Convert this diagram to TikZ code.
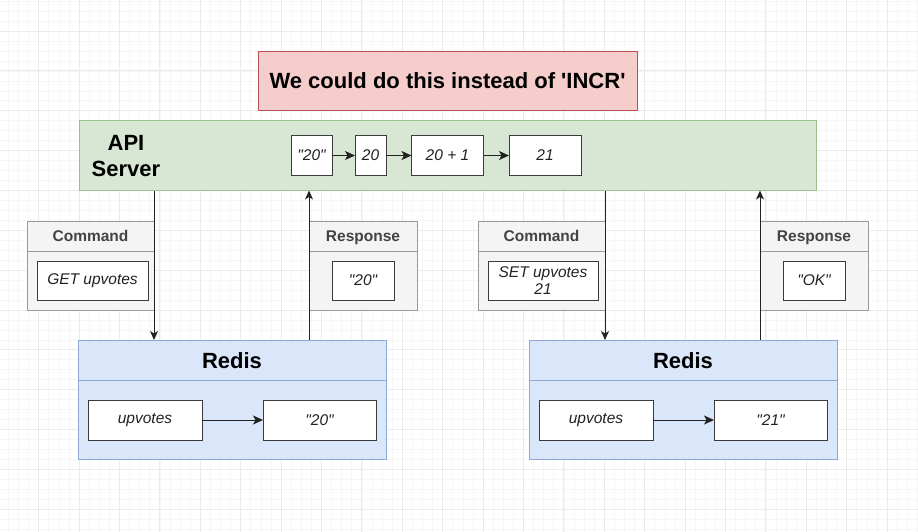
\documentclass[tikz,border=0pt]{standalone}
\usepackage{fontspec}
\setmainfont{Liberation Sans}[Ligatures=TeXOff]
\usetikzlibrary{arrows.meta}
\definecolor{gridminor}{HTML}{F6F6F6}
\definecolor{gridmajor}{HTML}{EBEBEB}
\definecolor{redfill}{HTML}{F5CDCB}
\definecolor{redline}{HTML}{B85450}
\definecolor{greenfill}{HTML}{D8E7D3}
\definecolor{greenline}{HTML}{9CC28C}
\definecolor{bluefill}{HTML}{DAE6FA}
\definecolor{blueline}{HTML}{8FA8D6}
\definecolor{grayfill}{HTML}{F4F4F4}
\definecolor{grayline}{HTML}{9A9A9A}
\definecolor{ink}{HTML}{222222}
\definecolor{boxline}{HTML}{3A3A3A}
\tikzset{
  base/.style={draw, inner sep=0pt, outer sep=0pt, align=center},
  redbox/.style={base, fill=redfill, draw=redline, line width=0.6pt},
  greenbox/.style={base, fill=greenfill, draw=greenline, line width=1pt},
  bluebox/.style={base, fill=bluefill, draw=blueline, line width=1pt},
  graybox/.style={base, fill=grayfill, draw=grayline, line width=1pt},
  valbox/.style={base, fill=white, draw=boxline, line width=1pt, text=ink,
    font=\fontsize{15.5}{18}\selectfont\itshape},
  bigtitle/.style={font=\fontsize{22}{26}\selectfont\bfseries, text=black, align=center},
  headtext/.style={font=\fontsize{15.5}{18}\selectfont\bfseries, text=ink!85, anchor=base, inner sep=0pt},
  arr/.style={draw=ink, line width=1pt, -{Stealth[length=9pt,width=8pt,inset=2.5pt]}},
  smallarr/.style={draw=ink, line width=1pt, -{Stealth[length=10pt,width=9pt,inset=2.5pt]}},
}
\begin{document}
\begin{tikzpicture}[x=1pt,y=-1pt]
\useasboundingbox (0,0) rectangle (918,532);
\fill[white] (0,0) rectangle (918,532);
% grid
\foreach \i in {-8,...,83} {
  \draw[gridminor, line width=0.5pt] ({79+10.1*\i},0) -- ({79+10.1*\i},532);
}
\foreach \j in {-4,...,50} {
  \draw[gridminor, line width=0.5pt] (0,{31+9.96*\j}) -- (918,{31+9.96*\j});
}
\foreach \i in {-2,...,21} {
  \draw[gridmajor, line width=0.7pt] ({79+40.4*\i},0) -- ({79+40.4*\i},532);
}
\foreach \j in {-1,...,13} {
  \draw[gridmajor, line width=0.7pt] (0,{31+39.85*\j}) -- (918,{31+39.85*\j});
}

% title box
\node[redbox, minimum width=379pt, minimum height=59pt, bigtitle] (title) at (447.5,80.5)
  {We could do this instead of 'INCR'};

% API server
\node[greenbox, minimum width=737pt, minimum height=70pt] (api) at (447.5,155.5) {};
\node[bigtitle, inner sep=0pt] (apilabel) at (126,156) {API\\Server};
\node[valbox, minimum width=41pt, minimum height=40pt] (s1) at (311.5,155.5) {"20"};
\node[valbox, minimum width=31pt, minimum height=40pt] (s2) at (370.5,155.5) {20};
\node[valbox, minimum width=72pt, minimum height=40pt] (s3) at (447.5,155.5) {20 + 1};
\node[valbox, minimum width=72pt, minimum height=40pt] (s4) at (545,155.5) {21};
\draw[smallarr] (s1) -- (s2);
\draw[smallarr] (s2) -- (s3);
\draw[smallarr] (s3) -- (s4);

% left command / response
\node[graybox, minimum width=127pt, minimum height=89pt] (cmdL) at (90.5,265.5) {};
\draw[grayline, line width=1pt] (cmdL.west |- 0,251) -- (cmdL.east |- 0,251);
\node[headtext] (cmdLh) at (90.5,241.5) {Command};
\node[valbox, minimum width=111pt, minimum height=39pt] (getv) at (92.5,280.5) {GET upvotes};

\node[graybox, minimum width=108pt, minimum height=89pt] (respL) at (363,265.5) {};
\draw[grayline, line width=1pt] (respL.west |- 0,251) -- (respL.east |- 0,251);
\node[headtext] (respLh) at (363,241.5) {Response};
\node[valbox, minimum width=62pt, minimum height=39pt] (r20) at (363,280.5) {"20"};

% right command / response
\node[graybox, minimum width=127pt, minimum height=89pt] (cmdR) at (541.5,265.5) {};
\draw[grayline, line width=1pt] (cmdR.west |- 0,251) -- (cmdR.east |- 0,251);
\node[headtext] (cmdRh) at (541.5,241.5) {Command};
\node[valbox, minimum width=110pt, minimum height=39pt, font=\fontsize{15.5}{17}\selectfont\itshape] (setv) at (543,280.5) {SET upvotes\\21};

\node[graybox, minimum width=108pt, minimum height=89pt] (respR) at (814,265.5) {};
\draw[grayline, line width=1pt] (respR.west |- 0,251) -- (respR.east |- 0,251);
\node[headtext] (respRh) at (814,241.5) {Response};
\node[valbox, minimum width=62pt, minimum height=39pt] (rok) at (814,280.5) {"OK"};

% Redis left
\node[bluebox, minimum width=308pt, minimum height=119pt] (redisL) at (232,399.5) {};
\draw[blueline, line width=1pt] (redisL.west |- 0,380) -- (redisL.east |- 0,380);
\node[bigtitle, anchor=base, inner sep=0pt] (redisLh) at (232,368) {Redis};
\node[valbox, minimum width=114pt, minimum height=40pt] (kL) at (145,420) {upvotes};
\node[valbox, minimum width=113pt, minimum height=40pt] (vL) at (319.5,420) {"20"};
\draw[smallarr] (kL) -- (vL);

% Redis right
\node[bluebox, minimum width=308pt, minimum height=119pt] (redisR) at (683,399.5) {};
\draw[blueline, line width=1pt] (redisR.west |- 0,380) -- (redisR.east |- 0,380);
\node[bigtitle, anchor=base, inner sep=0pt] (redisRh) at (683,368) {Redis};
\node[valbox, minimum width=114pt, minimum height=40pt] (kR) at (596,420) {upvotes};
\node[valbox, minimum width=113pt, minimum height=40pt] (vR) at (770.5,420) {"21"};
\draw[smallarr] (kR) -- (vR);

% vertical connectors
\draw[arr] (api.south -| cmdL.east) -- (redisL.north -| cmdL.east);
\draw[arr] (redisL.north -| respL.west) -- (api.south -| respL.west);
\draw[arr] (api.south -| cmdR.east) -- (redisR.north -| cmdR.east);
\draw[arr] (redisR.north -| respR.west) -- (api.south -| respR.west);
\end{tikzpicture}
\end{document}
